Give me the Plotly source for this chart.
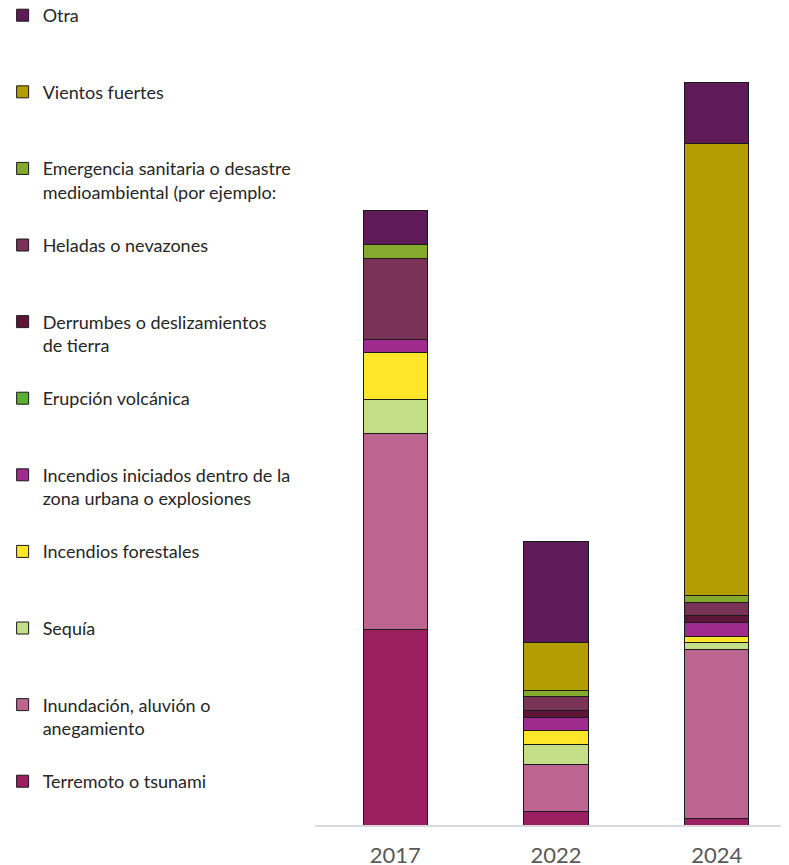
import plotly.graph_objects as go

years = ["2017", "2022", "2024"]

# series listed bottom of stack -> top
series_names = [
    "Terremoto o tsunami",
    "Inundación, aluvión o<br>anegamiento",
    "Sequía",
    "Incendios forestales",
    "Incendios iniciados dentro de la<br>zona urbana o explosiones",
    "Erupción volcánica",
    "Derrumbes o deslizamientos<br>de tierra",
    "Heladas o nevazones",
    "Emergencia sanitaria o desastre<br>medioambiental (por ejemplo:",
    "Vientos fuertes",
    "Otra",
]

terremoto = [29, 2, 1]
inundacion = [29, 7, 25]
sequia = [5, 3, 1]
forestales = [7, 2, 1]
urbanos = [2, 2, 2]
erupcion = [0, 0, 0]
derrumbes = [0, 1, 1]
heladas = [12, 2, 2]
emergencia = [2, 1, 1]
vientos = [0, 7, 67]
otra = [5, 15, 9]

series_values = [terremoto, inundacion, sequia, forestales, urbanos, erupcion,
                 derrumbes, heladas, emergencia, vientos, otra]

colors = ["#9C1F62", "#BC6590", "#C4DF88", "#FFE629", "#A12A8E", "#5BAF33",
          "#5E1537", "#783356", "#84A92D", "#B39D00", "#5F1B57"]

n = len(series_names)
fig = go.Figure()
for i, (name, vals, col) in enumerate(zip(series_names, series_values, colors)):
    # pad one-line names so every legend entry has the same height
    label = name if "<br>" in name else name + "<br>&nbsp;"
    fig.add_trace(go.Bar(
        x=years, y=vals, name=label, legendgroup=str(i), legendrank=n - i,
        marker=dict(color=col, line=dict(color="#1a1a1a", width=1)),
    ))

# page body has an 8px margin, so the figure is sized 16px smaller
fig.update_layout(
    barmode="stack",
    bargap=0.6,
    width=781, height=857,
    margin=dict(l=307, r=0, t=7, b=40, autoexpand=False),
    plot_bgcolor="white", paper_bgcolor="white",
    font=dict(family="Lato", color="#262626"),
    legend=dict(
        traceorder="grouped",
        tracegroupgap=26.8,
        valign="top",
        maxheight=2000,
        xref="paper", yref="paper",
        x=-0.659, y=1.0222, xanchor="left", yanchor="top",
        font=dict(size=18, color="#262626"),
        bgcolor="rgba(0,0,0,0)",
    ),
    xaxis=dict(
        range=[-0.5, 2.45],
        showline=True, linecolor="#d9d9d9", linewidth=2,
        ticks="outside", ticklen=10, tickcolor="rgba(0,0,0,0)",
        tickfont=dict(size=22, color="#595959"),
    ),
    yaxis=dict(range=[0, 120], visible=False),
)

fig.write_html("out.html")
